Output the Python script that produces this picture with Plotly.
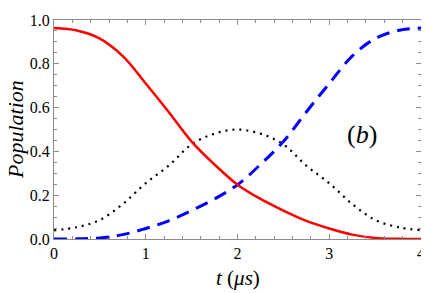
import plotly.graph_objects as go

t = [0, 0.25, 0.5, 0.75, 1.0, 1.25, 1.5, 1.75, 2.0, 2.25, 2.5, 2.75, 3.0, 3.25, 3.5, 3.75, 4.0]
red = [0.963, 0.952, 0.915, 0.835, 0.71, 0.58, 0.445, 0.34, 0.248, 0.183, 0.13, 0.083, 0.048, 0.02, 0.005, 0.001, 0.0]
blue = [0.0, 0.001, 0.005, 0.02, 0.048, 0.083, 0.13, 0.183, 0.248, 0.34, 0.445, 0.58, 0.71, 0.835, 0.915, 0.952, 0.963]
black = [0.04, 0.054, 0.087, 0.16, 0.255, 0.335, 0.432, 0.481, 0.5, 0.481, 0.432, 0.335, 0.255, 0.16, 0.087, 0.054, 0.04]

xticks = [0, 1, 2, 3, 4]
yticks = [0.0, 0.2, 0.4, 0.6, 0.8, 1.0]
ytext = ["0.0", "0.2", "0.4", "0.6", "0.8", "1.0"]

FONT = "serif"
fig = go.Figure()
fig.add_trace(go.Scatter(x=t, y=black, mode="lines", line=dict(color="black", width=2.2, dash="2px,5px", shape="spline")))
fig.add_trace(go.Scatter(x=t, y=blue, mode="lines", line=dict(color="#0000ff", width=3, dash="13px,8px", shape="spline")))
fig.add_trace(go.Scatter(x=t, y=red, mode="lines", line=dict(color="#ff0000", width=2.5, shape="spline")))

axcommon = dict(showgrid=False, zeroline=False, showline=True, linecolor="#8c8c8c", linewidth=1,
                mirror="allticks", ticks="inside", ticklen=5, tickcolor="#8c8c8c", tickwidth=1,
                ticklabeloverflow="allow",
                tickfont=dict(family=FONT, size=16, color="black"))
fig.update_xaxes(range=[0, 4], tickvals=xticks, ticktext=[str(v) for v in xticks],
                 minor=dict(ticks="inside", dtick=0.2, ticklen=3, tickcolor="#8c8c8c"), **axcommon)
fig.update_yaxes(range=[0, 1], tickvals=yticks, ticktext=ytext,
                 minor=dict(ticks="inside", dtick=0.05, ticklen=3, tickcolor="#8c8c8c"), **axcommon)

fig.add_annotation(text="<i>t</i> (<i>μs</i>)", xref="paper", yref="paper", x=0.5, y=-0.18,
                   xanchor="center", yanchor="middle", showarrow=False, font=dict(family=FONT, size=21, color="black"))
fig.add_annotation(text="<i>Population</i>", xref="paper", yref="paper", x=-0.105, y=0.5,
                   xanchor="center", yanchor="middle", textangle=-90, showarrow=False,
                   font=dict(family=FONT, size=22, color="black"))
fig.add_annotation(text="(<i>b</i>)", xref="x", yref="y", x=3.357, y=0.476,
                   xanchor="center", yanchor="middle", showarrow=False, font=dict(family=FONT, size=26, color="black"))

# page body adds an 8px margin, so the figure is sized 8px smaller and margins shifted
fig.update_layout(width=421, height=285, showlegend=False, plot_bgcolor="white", paper_bgcolor="white",
                  margin=dict(l=46, r=4, t=4, b=54))
fig.write_html("out.html")
